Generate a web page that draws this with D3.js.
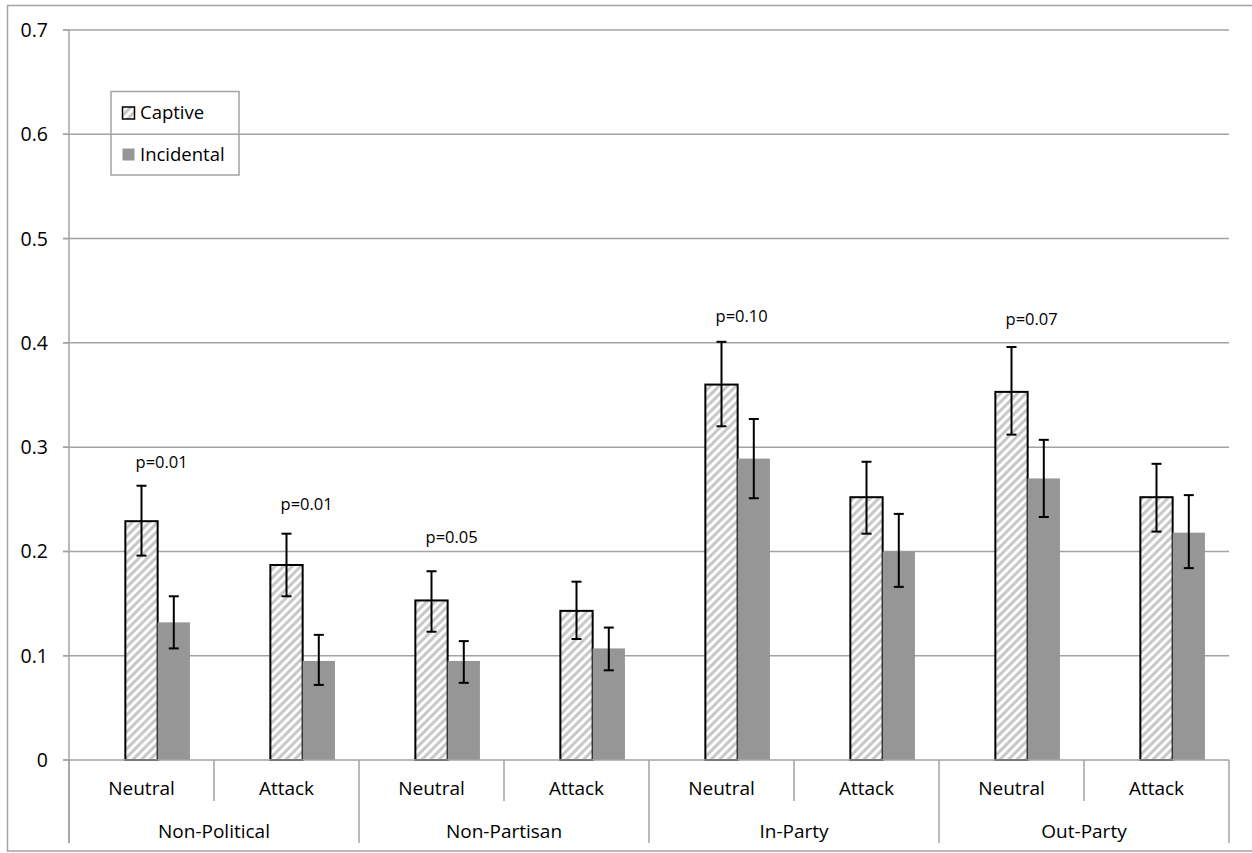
<!DOCTYPE html>
<html><head><meta charset="utf-8">
<script src="https://cdn.jsdelivr.net/npm/d3@7"></script>
<style>body{margin:0;background:#fff}svg{display:block}text{font-family:"Open Sans",sans-serif;fill:#000}</style>
</head><body>
<script>
const groups = ["Non-Political","Non-Partisan","In-Party","Out-Party"];
const conditions = ["Neutral","Attack"];
const seriesNames = ["Captive","Incidental"];
const captive      = [0.229,0.187,0.153,0.143,0.360,0.252,0.353,0.252];
const captiveHi    = [0.263,0.217,0.181,0.171,0.401,0.286,0.396,0.284];
const captiveLo    = [0.196,0.157,0.123,0.116,0.320,0.217,0.312,0.219];
const incidental   = [0.132,0.095,0.095,0.107,0.289,0.200,0.270,0.218];
const incidentalHi = [0.157,0.120,0.114,0.127,0.327,0.236,0.307,0.254];
const incidentalLo = [0.107,0.072,0.074,0.086,0.251,0.166,0.233,0.184];
const pLabels   = ["p=0.01","p=0.01","p=0.05","","p=0.10","","p=0.07",""];
const pLabelAt  = [0.280,0.240,0.208,null,0.420,null,0.417,null];
const yTicks = [0,0.1,0.2,0.3,0.4,0.5,0.6,0.7];
const yTickLabels = ["0","0.1","0.2","0.3","0.4","0.5","0.6","0.7"];

const W=1252,H=853;
const svg=d3.select("body").append("svg").attr("width",W).attr("height",H);
const defs=svg.append("defs");
const P=8.5;
const pat=defs.append("pattern").attr("id","hatch").attr("patternUnits","userSpaceOnUse")
  .attr("width",P).attr("height",P);
pat.append("rect").attr("width",P).attr("height",P).attr("fill","#fff");
pat.append("path").attr("d",`M${-P/4},${P/4} L${P/4},${-P/4} M0,${P} L${P},0 M${P*0.75},${P*1.25} L${P*1.25},${P*0.75}`)
  .attr("stroke","#c6c6c6").attr("stroke-width",3);

const grid="#a3a3a3";
svg.append("rect").attr("x",7.5).attr("y",5.5).attr("width",1260).attr("height",845.5)
  .attr("fill","none").attr("stroke",grid).attr("stroke-width",1.5);

const subcats=[];
groups.forEach(g=>conditions.forEach(c=>subcats.push(g+"|"+c)));
const x0=d3.scaleBand().domain(subcats).range([69,1229]);
const x1=d3.scaleBand().domain(["_"].concat(seriesNames)).range([0,x0.bandwidth()]).paddingOuter(0.745).paddingInner(0);
const y=d3.scaleLinear().domain([0,0.7]).range([760,30]);

svg.append("g").selectAll("line").data(yTicks.filter(d=>d>0)).join("line")
  .attr("x1",63).attr("x2",1229).attr("y1",d=>y(d)).attr("y2",d=>y(d))
  .attr("stroke",grid).attr("stroke-width",1.5);
svg.append("g").selectAll("line").data(yTicks).join("line")
  .attr("x1",63).attr("x2",69).attr("y1",d=>y(d)).attr("y2",d=>y(d))
  .attr("stroke",grid).attr("stroke-width",1.5);
svg.append("g").selectAll("text").data(yTicks).join("text")
  .attr("x",48).attr("y",d=>y(d)+7).attr("text-anchor","end").attr("font-size",19.5)
  .text((d,i)=>yTickLabels[i]);
svg.append("line").attr("x1",69).attr("x2",69).attr("y1",30).attr("y2",843).attr("stroke",grid).attr("stroke-width",1.5);

const gb=svg.append("g");
gb.selectAll("rect.cap").data(captive).join("rect").attr("class","cap")
  .attr("x",(d,i)=>x0(subcats[i])+x1("Captive")).attr("width",x1.bandwidth())
  .attr("y",d=>y(d)).attr("height",d=>y(0)-y(d))
  .attr("fill","url(#hatch)").attr("stroke","#000").attr("stroke-width",2);
gb.selectAll("rect.inc").data(incidental).join("rect").attr("class","inc")
  .attr("x",(d,i)=>x0(subcats[i])+x1("Incidental")).attr("width",x1.bandwidth())
  .attr("y",d=>y(d)).attr("height",d=>y(0)-y(d))
  .attr("fill","#969696");

svg.append("line").attr("x1",63).attr("x2",1229).attr("y1",760).attr("y2",760).attr("stroke",grid).attr("stroke-width",1.5);

function errBars(name,lo,hi){
  const g=svg.append("g").attr("stroke","#000").attr("stroke-width",2);
  lo.forEach((l,i)=>{
    const cx=x0(subcats[i])+x1(name)+x1.bandwidth()/2;
    g.append("line").attr("x1",cx).attr("x2",cx).attr("y1",y(l)).attr("y2",y(hi[i]));
    g.append("line").attr("x1",cx-5).attr("x2",cx+5).attr("y1",y(l)).attr("y2",y(l));
    g.append("line").attr("x1",cx-5).attr("x2",cx+5).attr("y1",y(hi[i])).attr("y2",y(hi[i]));
  });
}
errBars("Captive",captiveLo,captiveHi);
errBars("Incidental",incidentalLo,incidentalHi);

const pData=pLabels.map((t,i)=>({t,i,v:pLabelAt[i]})).filter(d=>d.t!=="");
svg.append("g").selectAll("text").data(pData).join("text")
  .attr("x",d=>x0(subcats[d.i])+x1("Captive")+x1.bandwidth()+4)
  .attr("y",d=>y(d.v))
  .attr("text-anchor","middle")
  .attr("font-size",16.5).text(d=>d.t);

const sepG=svg.append("g").attr("stroke",grid).attr("stroke-width",1.5);
subcats.forEach((s,i)=>{
  const xx=x0(s);
  const isGroup=i%2===0;
  sepG.append("line").attr("x1",xx).attr("x2",xx).attr("y1",760).attr("y2",isGroup?843:801);
});
sepG.append("line").attr("x1",1229).attr("x2",1229).attr("y1",760).attr("y2",843);

svg.append("g").selectAll("text").data(subcats).join("text")
  .attr("x",d=>x0(d)+x0.bandwidth()/2).attr("y",795).attr("text-anchor","middle")
  .attr("font-size",19).text(d=>d.split("|")[1]);
svg.append("g").selectAll("text").data(groups).join("text")
  .attr("x",(d,i)=>x0(subcats[i*2])+x0.bandwidth()).attr("y",838).attr("text-anchor","middle")
  .attr("font-size",19).text(d=>d);

const lg=svg.append("g");
lg.append("rect").attr("x",111).attr("y",91.5).attr("width",128).attr("height",83.5)
  .attr("fill","none").attr("stroke",grid).attr("stroke-width",1.5);
seriesNames.forEach((n,i)=>{
  const yy=107+i*41.5;
  lg.append("rect").attr("x",122.5).attr("y",yy).attr("width",12).attr("height",12)
    .attr("fill",n==="Captive"?"url(#hatch)":"#969696")
    .attr("stroke",n==="Captive"?"#000":"none").attr("stroke-width",1.5);
  lg.append("text").attr("x",140).attr("y",yy+12).attr("font-size",18.5).text(n);
});
</script>
</body></html>
